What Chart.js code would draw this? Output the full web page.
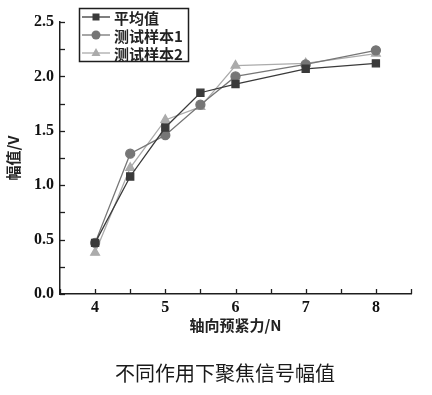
<!DOCTYPE html>
<html>
<head>
<meta charset="utf-8">
<script src="https://cdn.jsdelivr.net/npm/chart.js@4.4.1/dist/chart.umd.min.js"></script>
<style>
  html,body{margin:0;padding:0;background:#fff}
  canvas{display:block}
</style>
</head>
<body>
<canvas id="ampChart" width="432" height="395"></canvas>
<script>
// ── data ────────────────────────────────────────────────────────────────────
const forces   = [4, 4.5, 5, 5.5, 6, 7, 8];
const meanVals = [0.47, 1.08, 1.53, 1.85, 1.93, 2.07, 2.12];
const s1Vals   = [0.47, 1.29, 1.46, 1.74, 2.00, 2.11, 2.24];
const s2Vals   = [0.38, 1.16, 1.60, 1.72, 2.10, 2.12, 2.21];
const seriesNames = ['平均值', '测试样本1', '测试样本2'];
const xTickLabels = [4, 5, 6, 7, 8];
const yTickLabels = ['0.0', '0.5', '1.0', '1.5', '2.0', '2.5'];
const xTitle  = '轴向预紧力/N';
const yTitle  = '幅值/V';
const caption = '不同作用下聚焦信号幅值';

const DARK='#3a3a3a', MID='#767676', LIGHT='#ababab', AXIS='#1e1e1e';
const SERIF='"Liberation Serif","DejaVu Serif",serif';
const CJK='"Noto Sans CJK SC","Noto Sans",sans-serif';

const toXY = vals => vals.map((v,i)=>({x:forces[i], y:v}));

function mark(ctx, style, x, y, col){
  ctx.save();
  ctx.fillStyle=col;
  ctx.beginPath();
  if(style==='rect'){ ctx.rect(x-3.5,y-3.5,7,7); }
  else if(style==='circle'){ ctx.arc(x,y,4.5,0,Math.PI*2); }
  else { ctx.moveTo(x,y-5); ctx.lineTo(x+4.5,y+3); ctx.lineTo(x-4.5,y+3); ctx.closePath(); }
  ctx.fill();
  ctx.restore();
}

// inward ticks, axis titles, caption and the boxed legend
const decorations = {
  id:'decorations',
  afterDraw(chart){
    const {ctx, scales:{x, y}} = chart;
    ctx.save();
    ctx.strokeStyle=AXIS; ctx.lineWidth=1.3;
    y.ticks.forEach(t=>{
      const py=Math.round(y.getPixelForValue(t.value))+0.5;
      ctx.beginPath(); ctx.moveTo(x.left,py); ctx.lineTo(x.left+5,py); ctx.stroke();
    });
    x.ticks.forEach(t=>{
      const px=Math.round(x.getPixelForValue(t.value))+0.5;
      ctx.beginPath(); ctx.moveTo(px,y.bottom); ctx.lineTo(px,y.bottom-5); ctx.stroke();
    });

    ctx.fillStyle='#222';
    ctx.textAlign='center'; ctx.textBaseline='middle';
    ctx.font='bold 15px '+CJK;
    ctx.fillText(xTitle, (x.left+x.right)/2, 325);
    ctx.save();
    ctx.translate(13, 158); ctx.rotate(-Math.PI/2);
    ctx.font='bold 15px '+CJK;
    ctx.fillText(yTitle, 0, 0);
    ctx.restore();
    ctx.font='20px '+CJK;
    ctx.fillStyle='#1a1a1a';
    ctx.fillText(caption, 225, 373);

    // legend
    ctx.fillStyle='#fff';
    ctx.fillRect(79,8,110,54);
    ctx.strokeStyle=AXIS; ctx.lineWidth=1.5;
    ctx.strokeRect(79.5,8.5,109,53);
    const rowsY=[17,35,53];
    chart.data.datasets.forEach((ds,i)=>{
      const ry=rowsY[i];
      ctx.strokeStyle=ds.borderColor; ctx.lineWidth=1.3;
      ctx.beginPath(); ctx.moveTo(82,ry); ctx.lineTo(110,ry); ctx.stroke();
      mark(ctx, ds.pointStyle, 96, ry, ds.borderColor);
      ctx.fillStyle='#222'; ctx.textAlign='left';
      ctx.font='bold 15px '+CJK;
      ctx.fillText(ds.label, 114, ry+1);
    });
    ctx.restore();
  }
};

new Chart(document.getElementById('ampChart'),{
  type:'line',
  data:{datasets:[
    {label:seriesNames[0], data:toXY(meanVals), borderColor:DARK, backgroundColor:DARK, pointStyle:'rect',     pointRadius:5,   borderWidth:1.3},
    {label:seriesNames[1], data:toXY(s1Vals),   borderColor:MID,  backgroundColor:MID,  pointStyle:'circle',   pointRadius:4.5, borderWidth:1.3},
    {label:seriesNames[2], data:toXY(s2Vals),   borderColor:LIGHT,backgroundColor:LIGHT,pointStyle:'triangle', pointRadius:5,   borderWidth:1.3}
  ]},
  options:{
    responsive:false, animation:false, devicePixelRatio:1,
    layout:{padding:{top:22,right:21,left:0,bottom:0}},
    plugins:{legend:{display:false}, tooltip:{enabled:false}},
    elements:{line:{tension:0}, point:{borderWidth:0}},
    scales:{
      x:{type:'linear', min:3.5, max:8.5,
        afterFit:s=>{s.height=101;},
        grid:{display:false, drawTicks:false}, border:{display:true,color:AXIS,width:1.5},
        ticks:{stepSize:0.5, padding:4, color:'#111', font:{family:SERIF,size:16,weight:'bold'},
          callback:v=>xTickLabels.includes(v)?String(v):''}},
      y:{min:0, max:2.5,
        afterFit:s=>{s.width=60;},
        grid:{display:false, drawTicks:false}, border:{display:true,color:AXIS,width:1.5},
        ticks:{stepSize:0.25, padding:6, color:'#111', font:{family:SERIF,size:16,weight:'bold'},
          callback:v=>{const l=v.toFixed(1); return (Math.abs(v*2-Math.round(v*2))<1e-6 && yTickLabels.includes(l))?l:'';}}}
    }
  },
  plugins:[decorations]
});
</script>
</body>
</html>
